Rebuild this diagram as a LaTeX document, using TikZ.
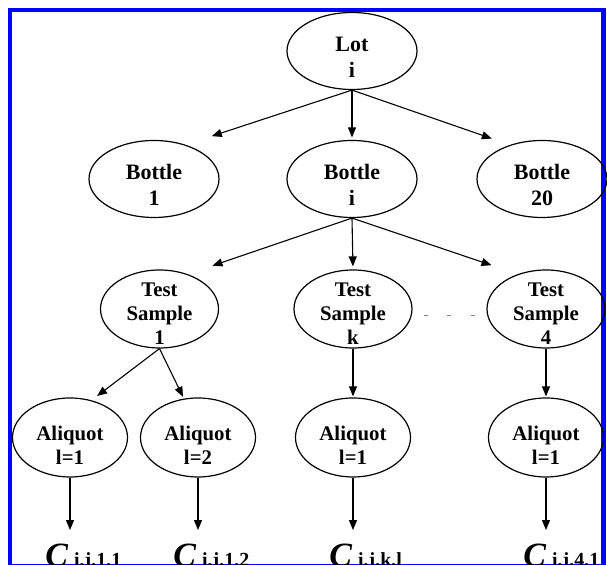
\documentclass[tikz,border=0pt]{standalone}
\usepackage{fontspec}
\setmainfont{Liberation Serif}
\usetikzlibrary{positioning,shapes.geometric,arrows.meta}

\tikzset{
  bignode/.style={ellipse, draw, line width=0.6pt, minimum width=65pt, minimum height=38.5pt, inner xsep=0pt, inner ysep=-6pt, align=center, font=\fontsize{11}{13}\selectfont\bfseries, execute at begin node={\rule{0pt}{27pt}}},
  testnode/.style={bignode, minimum width=59pt, minimum height=39pt, font=\fontsize{10.4}{12}\selectfont\bfseries, execute at begin node={\rule{0pt}{35.9pt}}},
  aliqnode/.style={bignode, minimum width=57.5pt, minimum height=39.5pt, font=\fontsize{10.4}{12}\selectfont\bfseries, execute at begin node={\rule{0pt}{25.4pt}}},
  arr/.style={-{Triangle[length=5pt,width=4pt]}, line width=0.55pt},
  clabel/.style={inner sep=0pt, anchor=base west}
}

\newcommand{\conc}[1]{{\fontsize{17}{17}\selectfont\bfseries\itshape C}\hspace{3pt}{\fontsize{10}{10}\selectfont\bfseries\raisebox{0.3pt}{#1}}}

\begin{document}
\begin{tikzpicture}[x=0.5pt, y=-0.5pt]
                \useasboundingbox (0,0) rectangle (607,565);
                \draw[blue, line width=2.2pt] (10,10) rectangle (603.5,566);

                % lot and bottles
                \node[bignode] (lot) at (352,51) {Lot\\i};
                \node[bignode] (b1) at (154,179) {Bottle\\1};
                \node[bignode] (bi) at (352,179) {Bottle\\i};
                \node[bignode] (b20) at (542,179) {Bottle\\20};

                % test samples
                \node[testnode] (ts1) at (159.5,309) {Test\\Sample\\1};
                \node[testnode] (tsk) at (353,309) {Test\\Sample\\k};
                \node[testnode] (ts4) at (546,309) {Test\\Sample\\4};

                % aliquots
                \node[aliqnode] (a1) at (70,437.5) {Aliquot\\l=1};
                \node[aliqnode] (a2) at (198,437.5) {Aliquot\\l=2};
                \node[aliqnode] (ak) at (353,437.5) {Aliquot\\l=1};
                \node[aliqnode] (a4) at (546,437.5) {Aliquot\\l=1};

                % results
                \node[clabel] (c1) at (45,567) {\conc{i,j,1,1}};
                \node[clabel] (c2) at (173,567) {\conc{i,j,1,2}};
                \node[clabel] (ck) at (329,567) {\conc{i,j,k,l}};
                \node[clabel] (c4) at (523,567) {\conc{i,j,4,1}};

                \draw[arr, shorten >=6pt] (lot.south) -- (b1.north east |- b1.north);
                \draw[arr, shorten >=1.2pt] (lot.south) -- (bi.north);
                \draw[arr, shorten >=2pt] (lot.south) -- (b20.north west |- b20.north);

                \draw[arr, shorten >=5.7pt] (bi.south) -- (ts1.north east |- ts1.north);
                \draw[arr, shorten >=1.5pt] (bi.south) -- (tsk.north);
                \draw[arr, shorten >=6.5pt] (bi.south) -- (ts4.north west |- ts4.north);

                \draw[arr, shorten >=3.5pt] (ts1.south) -- (a1.60);
                \draw[arr, shorten >=1pt] (ts1.south) -- (a2.110);
                \draw[arr, shorten >=0.5pt] (tsk.south) -- (ak.north);
                \draw[arr, shorten >=0.5pt] (ts4.south) -- (a4.north);

                \draw[arr, shorten >=7pt] (a1.south) -- (a1.south |- c1.north);
                \draw[arr, shorten >=7pt] (a2.south) -- (a2.south |- c2.north);
                \draw[arr, shorten >=7pt] (ak.south) -- (ak.south |- ck.north);
                \draw[arr, shorten >=7pt] (a4.south) -- (a4.south |- c4.north);

                \draw[gray, dash pattern=on 2pt off 9.75pt] ([xshift=5.5pt, yshift=-3pt]tsk.east) -- ([yshift=-3pt]ts4.west);
\end{tikzpicture}
\end{document}
